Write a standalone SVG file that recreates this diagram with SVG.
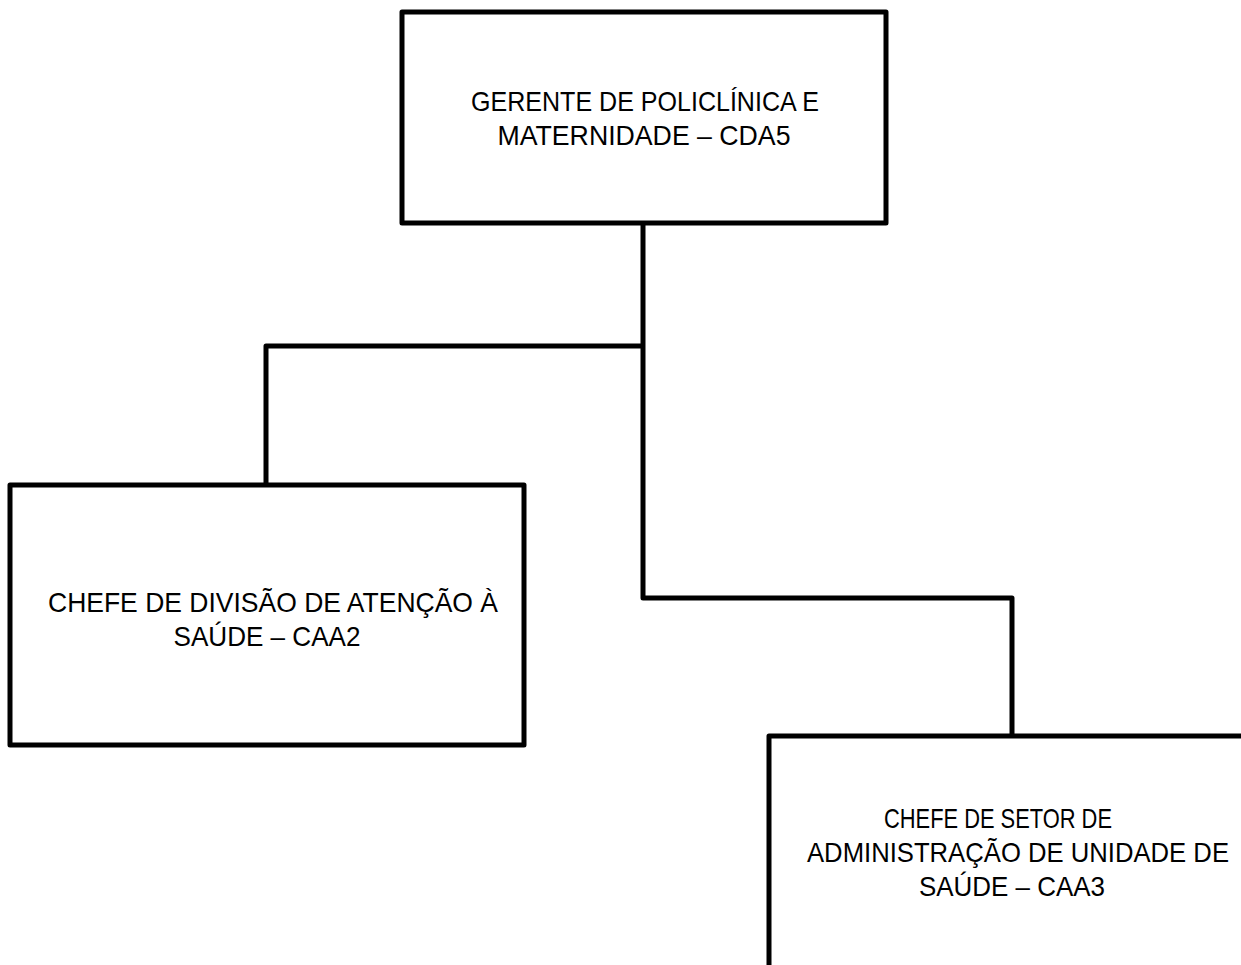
<svg xmlns="http://www.w3.org/2000/svg" width="1241" height="965" viewBox="0 0 1241 965">
<style>
.box{fill:#fff;stroke:#000;stroke-width:5;stroke-linejoin:round}
.conn{fill:none;stroke:#000;stroke-width:5;stroke-linejoin:round;stroke-linecap:butt}
.lbl{font-family:"Liberation Sans",Arial,sans-serif;font-size:28px;fill:#000;text-anchor:middle}
</style>
<rect width="1241" height="965" fill="#fff"/>
<g id="connectors">
<path class="conn" d="M643,223 V598 H1012 V736"/>
<path class="conn" d="M643,346 H266 V485"/>
</g>
<g id="node-gerente">
<rect class="box" x="402" y="12" width="484" height="211"/>
<text class="lbl" x="645" y="111" textLength="348" lengthAdjust="spacingAndGlyphs">GERENTE DE POLICLÍNICA E</text>
<text class="lbl" x="644" y="145" textLength="293" lengthAdjust="spacingAndGlyphs">MATERNIDADE – CDA5</text>
</g>
<g id="node-divisao">
<rect class="box" x="10" y="485" width="514" height="260"/>
<text class="lbl" x="273" y="612" textLength="450" lengthAdjust="spacingAndGlyphs">CHEFE DE DIVISÃO DE ATENÇÃO À</text>
<text class="lbl" x="267" y="646" textLength="187" lengthAdjust="spacingAndGlyphs">SAÚDE – CAA2</text>
</g>
<g id="node-setor">
<rect class="box" x="769" y="736" width="498" height="260"/>
<text class="lbl" x="998" y="828" textLength="228" lengthAdjust="spacingAndGlyphs">CHEFE DE SETOR DE</text>
<text class="lbl" x="1018" y="862" textLength="422" lengthAdjust="spacingAndGlyphs">ADMINISTRAÇÃO DE UNIDADE DE</text>
<text class="lbl" x="1012" y="896" textLength="186" lengthAdjust="spacingAndGlyphs">SAÚDE – CAA3</text>
</g>
</svg>
